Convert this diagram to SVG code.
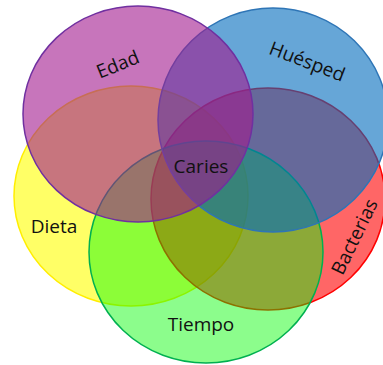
<svg xmlns="http://www.w3.org/2000/svg" width="383" height="365" viewBox="0 0 383 365">
<style>
.c{stroke-width:1.5}
.t{font-family:"Open Sans","Noto Sans",sans-serif;font-size:19px;fill:#111;text-anchor:middle}
</style>
<rect width="383" height="365" fill="#fff"/>
<g id="dieta">
<ellipse class="c" cx="131" cy="196" rx="117" ry="110" fill="#FFFF00" fill-opacity="0.6" stroke="#FFEE00"/>
</g>
<g id="bacterias">
<ellipse class="c" cx="268" cy="199" rx="117" ry="111" fill="#FF0000" fill-opacity="0.6" stroke="#FF0000"/>
</g>
<g id="tiempo">
<ellipse class="c" cx="206" cy="252" rx="117" ry="111" fill="#00FA00" fill-opacity="0.45" stroke="#00B050"/>
</g>
<g id="huesped">
<ellipse class="c" cx="273" cy="120" rx="115" ry="112" fill="#006BBC" fill-opacity="0.6" stroke="#2E75B6"/>
</g>
<g id="edad">
<ellipse class="c" cx="138" cy="114" rx="115" ry="108" fill="#A2198E" fill-opacity="0.6" stroke="#7030A0"/>
</g>
<g id="labels">
<text class="t" transform="translate(118,65) rotate(-22)" y="6">Edad</text>
<text class="t" transform="translate(307,62) rotate(21)" y="6">Huésped</text>
<text class="t" transform="translate(355,237) rotate(-64)" y="6">Bacterias</text>
<text class="t" x="54" y="233">Dieta</text>
<text class="t" x="201" y="173">Caries</text>
<text class="t" x="201" y="331">Tiempo</text>
</g>
</svg>
